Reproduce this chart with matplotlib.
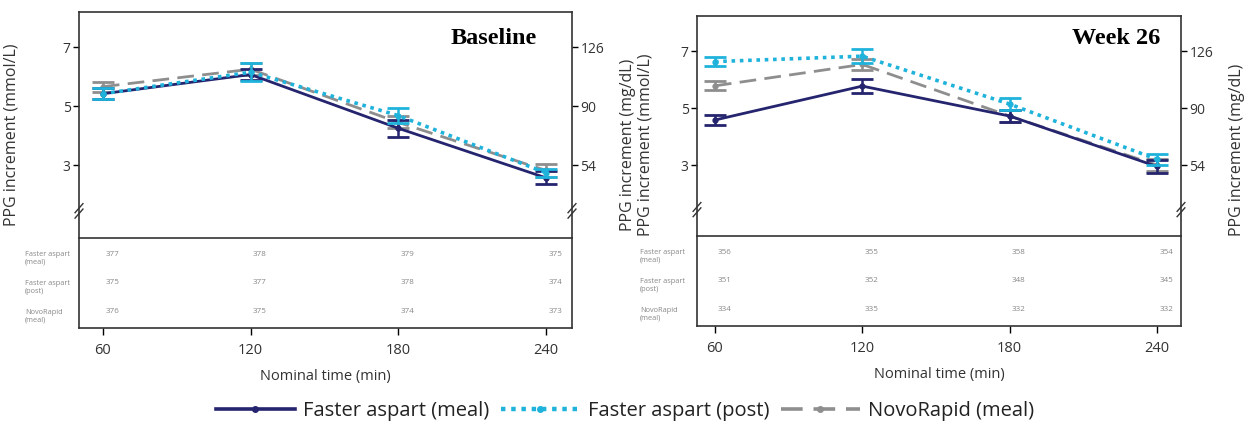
import matplotlib
matplotlib.use("Agg")
import matplotlib.pyplot as plt
from matplotlib.lines import Line2D

plt.rcParams['font.family'] = ['Open Sans', 'DejaVu Sans']

# ---------------- data ----------------
times = [60, 120, 180, 240]
series_names = ["Faster aspart (meal)", "Faster aspart (post)", "NovoRapid (meal)"]
row_labels = ["Faster aspart\n(meal)", "Faster aspart\n(post)", "NovoRapid\n(meal)"]

base_meal = [5.42, 6.07, 4.25, 2.57]
base_meal_err = [0.18, 0.2, 0.28, 0.22]
base_post = [5.42, 6.15, 4.68, 2.74]
base_post_err = [0.18, 0.3, 0.25, 0.14]
base_novo = [5.66, 6.25, 4.45, 2.82]
base_novo_err = [0.17, 0.2, 0.2, 0.22]

w26_meal = [4.58, 5.77, 4.72, 2.95]
w26_meal_err = [0.17, 0.25, 0.2, 0.22]
w26_post = [6.63, 6.82, 5.14, 3.2]
w26_post_err = [0.17, 0.25, 0.22, 0.2]
w26_novo = [5.78, 6.53, 4.72, 3.0]
w26_novo_err = [0.16, 0.2, 0.22, 0.2]

base_n_meal = [377, 378, 379, 375]
base_n_post = [375, 377, 378, 374]
base_n_novo = [376, 375, 374, 373]
w26_n_meal = [356, 355, 358, 354]
w26_n_post = [351, 352, 348, 345]
w26_n_novo = [334, 335, 332, 332]

y_ticks = [3, 5, 7]
y2_ticks = [54, 90, 126]
x_ticks = [60, 120, 180, 240]

# ---------------- styles ----------------
NAVY = "#25246e"
CYAN = "#1fb3dc"
GRAY = "#8e8e8e"
TXT = "#333333"
colors = [NAVY, CYAN, GRAY]
linestyles = ["-", (0, (1, 1.3)), (0, (6, 3))]
lws = [2.0, 2.6, 2.0]

W, H = 1251, 429
fig = plt.figure(figsize=(W / 100, H / 100), dpi=100)


def rect(x0, y0, x1, y1):
    return [x0 / W, 1 - y1 / H, (x1 - x0) / W, (y1 - y0) / H]


def break_marks(ax, ypos):
    for xa in (0, 1):
        for dy in (-0.012, 0.012):
            ax.plot([xa - 0.008, xa + 0.008], [ypos + dy - 0.02, ypos + dy + 0.02],
                    transform=ax.transAxes, color="#333333", lw=1.0, clip_on=False)


def panel(px, title, title_right, data, counts, xlim, ylim, label_x):
    x0, x1, ytop, ymid, ybot = px
    ax = fig.add_axes(rect(x0, ytop, x1, ymid))
    axt = fig.add_axes(rect(x0, ymid, x1, ybot), sharex=ax)
    for i, (vals, errs) in enumerate(data):
        ax.errorbar(times, vals, yerr=errs, color=colors[i], ls=linestyles[i], lw=lws[i],
                    marker="o", ms=3.5, capsize=8, capthick=2.0, elinewidth=1.8,
                    zorder=3 - i * 0.5 if i != 1 else 3.5)
    ax.set_xlim(*xlim)
    ax.set_ylim(*ylim)
    ax.set_yticks(y_ticks)
    ax.tick_params(axis="y", direction="out", length=4, width=1, labelsize=10,
                   labelcolor=TXT, pad=2)
    ax.tick_params(axis="x", bottom=False, labelbottom=False)
    for s in ax.spines.values():
        s.set_linewidth(1.2)
        s.set_color("#333333")
    ax.spines["bottom"].set_visible(False)
    sec = ax.secondary_yaxis("right", functions=(lambda v: v * 18, lambda v: v / 18))
    sec.set_yticks(y2_ticks)
    sec.tick_params(direction="out", length=4, width=1, labelsize=10, labelcolor=TXT, pad=2)
    sec.spines["right"].set_visible(False)
    break_marks(ax, 0.12)
    fig.text(title_right / W, 1 - 39 / H, title, ha="right", va="center",
             family="Liberation Serif", fontweight="bold", fontsize=17.5, color="black")
    # table
    axt.set_ylim(0, 1)
    axt.set_yticks([])
    axt.set_xticks(x_ticks)
    axt.tick_params(axis="x", direction="out", length=5, width=1, labelsize=10.5,
                    labelcolor=TXT, pad=6)
    for s in axt.spines.values():
        s.set_linewidth(1.2)
        s.set_color("#333333")
    rows_y = [0.82, 0.5, 0.18]
    for r, cnts in enumerate(counts):
        for t, c in zip(times, cnts):
            axt.text(t + 1, rows_y[r], str(c), ha="left", va="center", fontsize=5.8,
                     color="#888888")
        yfig = 1 - (ymid + (1 - rows_y[r] + 0.05) * (ybot - ymid)) / H
        fig.text(label_x / W, yfig, row_labels[r], ha="left", va="center",
                 fontsize=5.3, color="#888888", linespacing=1.1)
    axt.set_xlabel("Nominal time (min)", fontsize=10.5, color=TXT, labelpad=8)
    return ax, axt


axL, _ = panel((79, 572, 12, 238, 328), "Baseline", 537,
               [(base_meal, base_meal_err), (base_post, base_post_err),
                (base_novo, base_novo_err)],
               [base_n_meal, base_n_post, base_n_novo],
               (50.3, 250.6), (0.53, 8.19), 25)
axR, _ = panel((697, 1181, 16, 236, 326), "Week 26", 1160,
               [(w26_meal, w26_meal_err), (w26_post, w26_post_err),
                (w26_novo, w26_novo_err)],
               [w26_n_meal, w26_n_post, w26_n_novo],
               (52.7, 249.8), (0.51, 8.23), 640)

# y-axis labels
LS = 11.5
fig.text(12 / W, 1 - 135 / H, "PPG increment (mmol/L)", rotation=90, ha="center",
         va="center", fontsize=LS, color=TXT)
fig.text(628 / W, 1 - 145 / H, "PPG increment (mg/dL)", rotation=90, ha="center",
         va="center", fontsize=LS, color=TXT)
fig.text(646 / W, 1 - 145 / H, "PPG increment (mmol/L)", rotation=90, ha="center",
         va="center", fontsize=LS, color=TXT)
fig.text(1237 / W, 1 - 150 / H, "PPG increment (mg/dL)", rotation=90, ha="center",
         va="center", fontsize=LS, color=TXT)

# legend
handles = [Line2D([0], [0], color=colors[i], ls=linestyles[i], lw=lws[i] + 0.6,
                  marker="o", ms=4) for i in range(3)]
fig.legend(handles, series_names, loc="center", bbox_to_anchor=(625 / W, 1 - 411 / H),
           ncol=3, frameon=False, fontsize=14.5, handlelength=3.9, handletextpad=0.4,
           columnspacing=0.6, labelcolor="#222222")

fig.savefig("out.png", dpi=100)
